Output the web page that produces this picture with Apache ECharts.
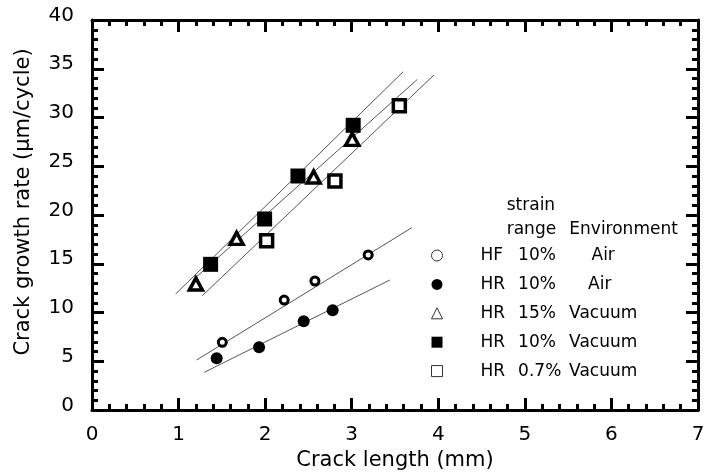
<!DOCTYPE html>
<html>
<head>
<meta charset="utf-8">
<script src="https://cdn.jsdelivr.net/npm/echarts@6/dist/echarts.min.js"></script>
<style>html,body{margin:0;padding:0;background:#fff}#c{width:710px;height:476px}</style>
</head>
<body>
<div id="c"></div>
<script>
// ---- data ----
const xTicks = [0, 1, 2, 3, 4, 5, 6, 7];
const yTicks = [0, 5, 10, 15, 20, 25, 30, 35, 40];
const seriesNames = ['HF 10% Air', 'HR 10% Air', 'HR 15% Vacuum', 'HR 10% Vacuum', 'HR 0.7% Vacuum'];
const hfAir10 = [[1.505, 6.94], [2.22, 11.28], [2.575, 13.23], [3.19, 15.9]];
const hrAir10 = [[1.44, 5.3], [1.93, 6.43], [2.445, 9.1], [2.78, 10.22]];
const hrVac15 = [[1.2, 12.92], [1.67, 17.6], [2.56, 23.9], [3.006, 27.76]];
const hrVac10 = [[1.37, 14.94], [1.994, 19.59], [2.379, 24.0], [3.017, 29.2]];
const hrVac07 = [[2.017, 17.37], [2.806, 23.5], [3.55, 31.2]];
// fitted trend lines (end points)
const fitVac10 = [[0.966, 11.9], [3.595, 34.7]];
const fitVac15 = [[1.2, 13.6], [3.757, 33.9]];
const fitVac07 = [[1.274, 11.72], [3.95, 34.36]];
const fitHfAir = [[1.209, 5.13], [3.695, 18.7]];
const fitHrAir = [[1.297, 3.87], [3.44, 13.33]];

const FONT = 'DejaVu Sans';
const chart = echarts.init(document.getElementById('c'));

function axisCommon(min, max, interval) {
  return {
    type: 'value', min: min, max: max, interval: interval,
    axisLine: { show: true, onZero: false, lineStyle: { color: '#000', width: 3 } },
    axisTick: { show: true, inside: true, length: 12, lineStyle: { color: '#000', width: 3 } },
    minorTick: { show: true, splitNumber: 5, length: 6, lineStyle: { color: '#000', width: 3 } },
    splitLine: { show: false },
    minorSplitLine: { show: false }
  };
}

const lineStyle = { color: '#555', width: 1 };
function fitSeries(d) {
  return { type: 'line', data: d, symbol: 'none', silent: true, lineStyle: lineStyle, z: 1, animation: false };
}
function markSeries(name, d, symbol, size, fill, bw) {
  return {
    type: 'scatter', name: name, data: d, symbol: symbol, symbolSize: size, z: 3, animation: false,
    itemStyle: { color: fill, borderColor: '#000', borderWidth: bw, opacity: 1 }
  };
}

chart.setOption({
  animation: false,
  grid: { left: 92, right: 12, top: 20, bottom: 66, containLabel: false },
  xAxis: [
    Object.assign(axisCommon(xTicks[0], xTicks[xTicks.length - 1], 1), {
      position: 'bottom',
      name: 'Crack length (mm)', nameLocation: 'middle', nameGap: 34,
      nameTextStyle: { fontFamily: FONT, fontSize: 21, color: '#000' },
      axisLabel: { show: true, margin: 15, fontFamily: FONT, fontSize: 20, color: '#000' }
    }),
    Object.assign(axisCommon(xTicks[0], xTicks[xTicks.length - 1], 1), {
      position: 'top', axisLabel: { show: false }
    })
  ],
  yAxis: [
    Object.assign(axisCommon(yTicks[0], yTicks[yTicks.length - 1], 5), {
      position: 'left',
      name: 'Crack growth rate (\u00b5m/cycle)', nameLocation: 'middle', nameGap: 58,
      nameTextStyle: { fontFamily: FONT, fontSize: 21, color: '#000', padding: [0, 0, 0, 26] },
      axisLabel: { show: true, margin: 18, fontFamily: FONT, fontSize: 20, color: '#000', verticalAlign: 'bottom', lineHeight: 9 }
    }),
    Object.assign(axisCommon(yTicks[0], yTicks[yTicks.length - 1], 5), {
      position: 'right', axisLabel: { show: false }
    })
  ],
  legend: {
    orient: 'vertical', left: 426, top: 242,
    itemWidth: 11, itemHeight: 11, itemGap: 11.9,
    selectedMode: false,
    data: [
      { name: seriesNames[0], icon: 'circle', itemStyle: { color: '#fff', borderColor: '#333', borderWidth: 1 } },
      { name: seriesNames[1], icon: 'circle', itemStyle: { color: '#000', borderColor: '#000', borderWidth: 0 } },
      { name: seriesNames[2], icon: 'triangle', itemStyle: { color: '#fff', borderColor: '#333', borderWidth: 1 } },
      { name: seriesNames[3], icon: 'rect', itemStyle: { color: '#000', borderColor: '#000', borderWidth: 0 } },
      { name: seriesNames[4], icon: 'rect', itemStyle: { color: '#fff', borderColor: '#333', borderWidth: 1 } }
    ],
    textStyle: {
      fontFamily: FONT, fontSize: 17, color: '#000',
      rich: {
        s: { width: 33, lineHeight: 20, fontFamily: FONT, fontSize: 17 },
        a: { width: 37.6, lineHeight: 20, fontFamily: FONT, fontSize: 17, color: '#000' },
        b: { width: 51, lineHeight: 20, fontFamily: FONT, fontSize: 17, color: '#000' },
        e1: { width: 22.4, lineHeight: 20, fontFamily: FONT, fontSize: 17 },
        e2: { width: 19, lineHeight: 20, fontFamily: FONT, fontSize: 17 },
        c: { lineHeight: 20, fontFamily: FONT, fontSize: 17, color: '#000' }
      }
    },
    formatter: function (name) {
      const p = name.split(' ');
      let pre = '';
      if (name === seriesNames[0]) pre = '{e1|}';
      else if (name === seriesNames[1]) pre = '{e2|}';
      return '{s|}{a|' + p[0] + '}{b|' + p[1] + '}' + pre + '{c|' + p[2] + '}';
    }
  },
  graphic: [
    { type: 'text', left: 506.7, top: 197, style: { text: 'strain', font: '17px "DejaVu Sans"', fill: '#000' } },
    { type: 'text', left: 506.7, top: 221, style: { text: 'range', font: '17px "DejaVu Sans"', fill: '#000' } },
    { type: 'text', left: 569.3, top: 221, style: { text: 'Environment', font: '17px "DejaVu Sans"', fill: '#000' } }
  ],
  series: [
    fitSeries(fitVac10), fitSeries(fitVac15), fitSeries(fitVac07),
    fitSeries(fitHfAir), fitSeries(fitHrAir),
    markSeries(seriesNames[0], hfAir10, 'circle', 8, '#fff', 3),
    markSeries(seriesNames[1], hrAir10, 'circle', 12, '#000', 0),
    markSeries(seriesNames[2], hrVac15, 'triangle', [13, 12], '#fff', 3.5),
    markSeries(seriesNames[3], hrVac10, 'rect', 15, '#000', 0),
    markSeries(seriesNames[4], hrVac07, 'rect', 12, '#fff', 3.5)
  ]
});
</script>
</body>
</html>
